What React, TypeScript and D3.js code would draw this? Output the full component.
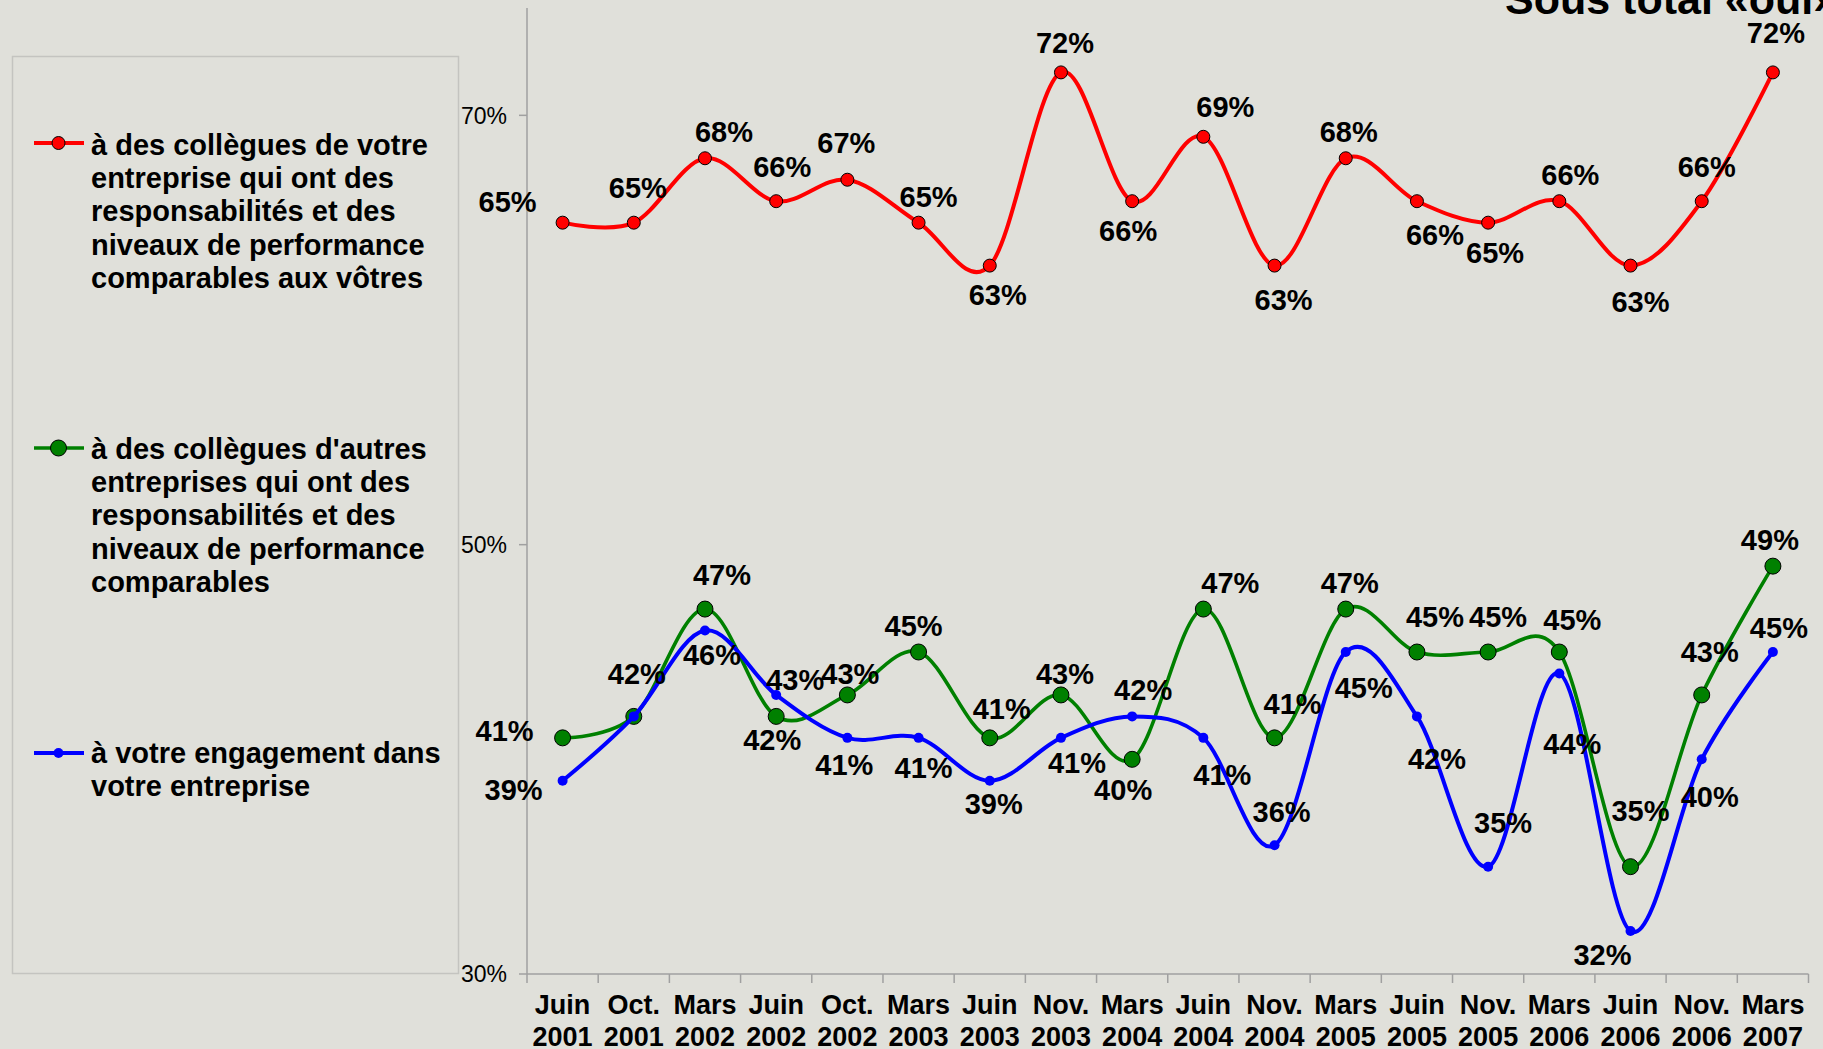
import React from "react";
import * as d3 from "d3";

const categories = [
  "Juin 2001", "Oct. 2001", "Mars 2002", "Juin 2002", "Oct. 2002", "Mars 2003",
  "Juin 2003", "Nov. 2003", "Mars 2004", "Juin 2004", "Nov. 2004", "Mars 2005",
  "Juin 2005", "Nov. 2005", "Mars 2006", "Juin 2006", "Nov. 2006", "Mars 2007",
];

const redValues = [65, 65, 68, 66, 67, 65, 63, 72, 66, 69, 63, 68, 66, 65, 66, 63, 66, 72];
const greenValues = [41, 42, 47, 42, 43, 45, 41, 43, 40, 47, 41, 47, 45, 45, 45, 35, 43, 49];
const blueValues = [39, 42, 46, 43, 41, 41, 39, 41, 42, 41, 36, 45, 42, 35, 44, 32, 40, 45];

const yTicks = [30, 50, 70];

const redLegend = [
  "à des collègues de votre",
  "entreprise qui ont des",
  "responsabilités et des",
  "niveaux de performance",
  "comparables aux vôtres",
];
const greenLegend = [
  "à des collègues d'autres",
  "entreprises qui ont des",
  "responsabilités et des",
  "niveaux de performance",
  "comparables",
];
const blueLegend = ["à votre engagement dans", "votre entreprise"];

const title = "Sous total «oui»";

// label placement (offset of label centre from its point), layout only
const redLabelOffsets: ([number, number] | null)[] = [
  [-55, -21], [4, -35], [19, -27], [6, -35], [-1, -37], [10, -26], [8, 29], [4, -30], [-4, 29],
  [22, -30], [9, 34], [3, -27], [18, 33], [7, 30], [11, -27], [10, 36], [5, -35], [3, -40],
];
const greenLabelOffsets: ([number, number] | null)[] = [
  [-58, -7], [3, -43], [17, -35], [-4, 23], [3, -21], [-5, -26], [12, -29], [4, -21], [-9, 30],
  [27, -27], [18, -34], [4, -27], [18, -35], [10, -35], [13, -32], [10, -56], [8, -43], [-3, -27],
];
const blueLabelOffsets: ([number, number] | null)[] = [
  [-49, 9], null, [7, 24], [19, -15], [-3, 27], [5, 30], [4, 23], [16, 25], [11, -27],
  [19, 37], [7, -34], [18, 36], [20, 42], [15, -44], [13, 70], [-28, 23], [8, 37], [6, -24],
];

const W = 1823;
const H = 1049;
const BG = "#E0E0DA";
const FONT = "'Liberation Sans', Arial, Helvetica, sans-serif";

const x = d3.scaleBand<string>().domain(categories).range([527, 1808.5]).padding(0);
const y = d3.scaleLinear().domain([30, 75]).range([974, 8]);

const series = [
  { values: redValues, color: "#FF0000", r: 6.5, stroke: "#000", offsets: redLabelOffsets, width: 4 },
  { values: greenValues, color: "#008000", r: 8, stroke: "#000", offsets: greenLabelOffsets, width: 3.6 },
  { values: blueValues, color: "#0000FF", r: 5, stroke: "none", offsets: blueLabelOffsets, width: 4 },
];

const cx = (i: number) => (x(categories[i]) as number) + x.bandwidth() / 2;

const line = d3
  .line<number>()
  .x((_, i) => cx(i))
  .y((d) => y(d))
  .curve(d3.curveCardinal.tension(0));

export default function App() {
  const legends = [
    { lines: redLegend, lineY: 143, textY: 155, s: series[0] },
    { lines: greenLegend, lineY: 448, textY: 459, s: series[1] },
    { lines: blueLegend, lineY: 753, textY: 763, s: series[2] },
  ];
  return (
    <div style={{ position: "absolute", left: 0, top: 0, width: W, height: H, overflow: "hidden" }}>
      <svg width={W} height={H} style={{ display: "block", background: BG, fontFamily: FONT }}>
        <rect x={0} y={0} width={W} height={H} fill={BG} />
        {/* legend box */}
        <rect x={12.5} y={56.5} width={446} height={917} fill="none" stroke="#C4C4C0" strokeWidth={1.5} />
        {legends.map((lg, k) => (
          <g key={k}>
            <line x1={34} x2={84} y1={lg.lineY} y2={lg.lineY} stroke={lg.s.color} strokeWidth={lg.s.width} />
            <circle cx={58.5} cy={lg.lineY} r={lg.s.r} fill={lg.s.color} stroke={lg.s.stroke} strokeWidth={1} />
            {lg.lines.map((t, j) => (
              <text key={j} x={91} y={lg.textY + j * 33.2} fontSize={29} fontWeight="bold" fill="#000">
                {t}
              </text>
            ))}
          </g>
        ))}
        {/* y axis */}
        <line x1={527} x2={527} y1={y(75)} y2={y(30)} stroke="#A0A0A0" strokeWidth={1.5} />
        {yTicks.map((t) => (
          <g key={t}>
            <line x1={519} x2={527} y1={y(t)} y2={y(t)} stroke="#A0A0A0" strokeWidth={1.5} />
            <text x={507} y={y(t)} dy="0.36em" textAnchor="end" fontSize={23} fill="#000">
              {t}%
            </text>
          </g>
        ))}
        {/* x axis */}
        <line x1={527} x2={1808.5} y1={y(30)} y2={y(30)} stroke="#A0A0A0" strokeWidth={1.5} />
        {categories.map((c, i) => {
          const x0 = x(c) as number;
          const [m, yr] = c.split(" ");
          return (
            <g key={c}>
              <line x1={x0} x2={x0} y1={y(30)} y2={y(30) + 9} stroke="#A0A0A0" strokeWidth={1.5} />
              {i === categories.length - 1 && (
                <line x1={x0 + x.bandwidth()} x2={x0 + x.bandwidth()} y1={y(30)} y2={y(30) + 9} stroke="#A0A0A0" strokeWidth={1.5} />
              )}
              <text x={cx(i)} y={1014} textAnchor="middle" fontSize={27} fontWeight="bold" fill="#000">
                {m}
              </text>
              <text x={cx(i)} y={1046} textAnchor="middle" fontSize={27} fontWeight="bold" fill="#000">
                {yr}
              </text>
            </g>
          );
        })}
        {/* series */}
        {series.map((s, k) => (
          <g key={k}>
            <path d={line(s.values) as string} fill="none" stroke={s.color} strokeWidth={s.width} strokeLinejoin="round" />
            {s.values.map((v, i) => (
              <circle key={i} cx={cx(i)} cy={y(v)} r={s.r} fill={s.color} stroke={s.stroke} strokeWidth={1} />
            ))}
          </g>
        ))}
        {series.map((s, k) => (
          <g key={"l" + k}>
            {s.values.map((v, i) => {
              const o = s.offsets[i];
              if (!o) return null;
              return (
                <text key={i} x={cx(i) + o[0]} y={y(v) + o[1]} dy="0.36em" textAnchor="middle" fontSize={29} fontWeight="bold" fill="#000">
                  {v}%
                </text>
              );
            })}
          </g>
        ))}
        <text x={1505} y={14} fontSize={43} fontWeight="bold" fill="#000">
          {title}
        </text>
      </svg>
    </div>
  );
}
